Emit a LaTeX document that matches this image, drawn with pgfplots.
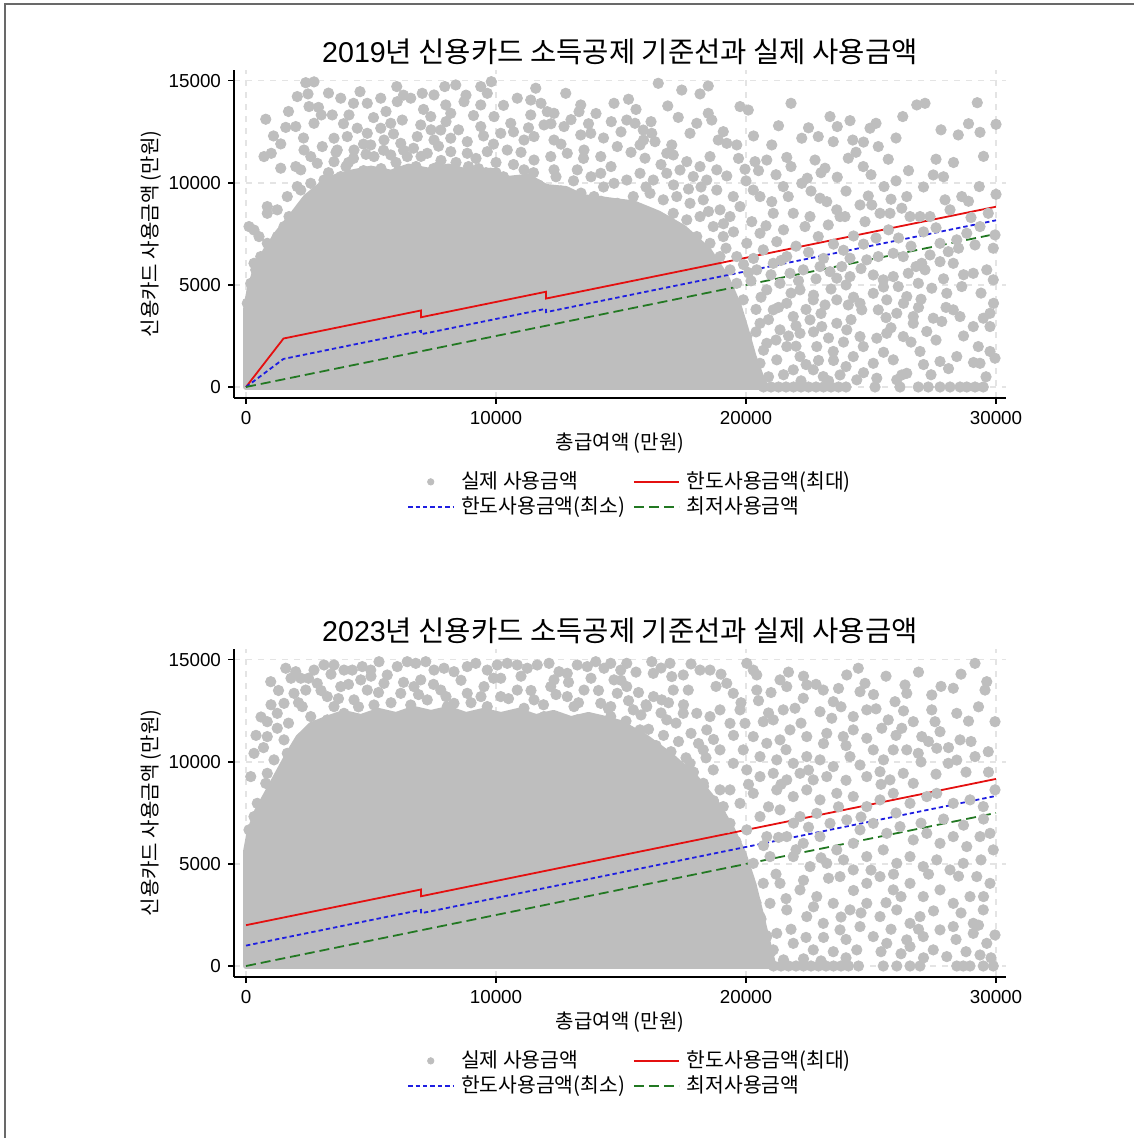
\documentclass[border=0pt]{standalone}
\usepackage{fontspec}
\setmainfont{Liberation Sans}
\newfontfamily\kr{Noto Sans CJK KR}
\usepackage{pgfplots}
\usepackage{pgfplotstable}
\pgfplotsset{compat=1.18}

\definecolor{dotgray}{RGB}{190,190,190}
\definecolor{maxred}{RGB}{228,16,16}
\definecolor{minblue}{RGB}{30,30,225}
\definecolor{lowgreen}{RGB}{34,120,34}
\definecolor{gridgray}{RGB}{228,228,228}
\definecolor{framegray}{RGB}{105,105,105}

% ---------- 2019: dense core of the cloud (outline) ----------
\pgfplotstableread{
x y
0 0
0 3800
150 4800
400 5800
800 6700
1300 7600
1900 8500
2400 9300
3000 9900
3600 10300
4200 10500
5000 10700
5800 10500
6500 10800
7300 10600
8100 10800
9000 10500
9800 10600
10500 10200
11300 10300
12000 9800
12800 9700
13500 9300
14200 9200
14800 9100
15500 9000
16500 8500
17500 7800
18500 6700
19200 5400
19700 4000
20000 2800
20300 1500
20600 500
20800 0
}\coreA

% ---------- 2019: individual observations outside the core ----------
\pgfplotstableread{
x y
2390 14910
2720 14950
2050 14230
2480 14360
2520 13740
790 13120
1590 12720
1990 12760
1390 11910
720 11290
1010 11450
1390 10720
1990 10800
2320 11610
2720 12920
3010 13330
3450 13330
3790 14150
4120 13330
4560 14470
4850 13900
5390 14150
6030 14720
6050 13980
6590 14150
7050 14390
7520 14310
7950 14720
8390 14800
8720 13980
9390 14720
9810 14960
9650 14390
9390 13820
7990 13820
8190 13410
7390 13250
7790 12590
6990 12840
6250 13080
5790 12920
5390 12680
4850 12430
4450 12680
4050 12270
3520 12190
3050 11780
3650 11610
4320 11610
4990 11860
5520 12100
6190 11940
6850 12270
7520 12100
8190 12190
8850 12020
9390 12760
9920 13250
10190 12430
10590 12920
10850 14150
11390 14060
11590 14640
11390 13330
12050 13490
12320 13410
12790 14390
13390 13820
13320 13490
14720 13900
14610 13000
12720 12760
11920 12840
11520 12270
12320 12100
13390 12350
13790 12430
11120 12100
10450 11610
9650 11530
8850 11450
8190 11530
7250 11450
6450 11290
5790 11370
5120 11290
2590 11290
2190 10640
2850 10960
3520 11040
12850 11450
13520 11610
14190 11290
14850 11780
12190 11290
11520 11120
11120 10640
12320 10640
13250 10640
14190 10470
14720 9980
13920 9330
14850 9000
4000 10800
4700 10600
5400 10700
6100 10600
6800 10800
7500 10700
8200 10600
8900 10800
9600 10500
10300 10300
11000 10100
11700 9900
12600 9600
13400 9500
14200 9100
3300 10500
6500 10400
8500 10300
10000 11000
9200 11200
7800 11100
6000 11000
4300 11200
1100 12300
1700 13500
2300 12200
2900 13700
3300 14400
3900 12900
4300 13900
4700 11900
5100 13200
5600 13500
5900 12400
6300 14300
6700 11700
7100 13600
7400 12600
7700 11800
8000 13000
8500 12600
8800 14300
9100 13300
9500 12300
9900 11900
10300 13800
10700 12500
11000 11500
11300 12700
11800 13900
12200 12900
12600 11900
13000 13100
13500 11200
13700 12900
14000 13400
14300 12200
14600 10800
15000 12500
15300 14100
15600 13600
15900 12100
16200 13000
3600 11500
4100 11000
4800 11400
5500 11600
6300 11600
7000 11300
7700 10800
8400 11000
9300 10700
10000 10500
10700 10900
11500 10500
12400 10300
13100 10100
13800 10300
14300 9800
320 7690
120 7860
520 7370
320 6060
390 5740
850 8510
1650 9330
2050 9820
850 8840
1250 7370
1250 8680
1720 8350
2190 9650
2590 9980
3120 10140
3790 10310
4590 10470
1520 7860
850 7040
590 6390
190 5080
50 4100
16490 14880
17430 14550
18160 14360
18490 14750
16870 13770
17290 13210
15230 13080
15560 12920
15890 12590
16230 12430
16360 12020
15760 11860
17030 11860
17760 12430
18030 12920
18490 13410
18630 13080
19090 12510
18890 12100
19230 11940
19630 11860
19760 13740
20090 13570
21800 13900
21030 11860
21630 11250
20360 11040
20830 11120
19960 10670
18560 11290
18160 10800
18830 10640
19230 10340
17630 11040
17090 11370
16830 11450
15960 11210
22230 12190
22890 12270
23360 13250
23650 12760
23490 12020
24160 13050
24270 12100
24960 12680
25200 12920
25290 11780
26270 13250
26830 13820
27160 13900
29250 13930
30000 12870
29360 12480
28490 12350
27600 11160
27490 10390
25690 11160
24690 10800
24090 11210
23160 10720
22760 11120
22450 10230
23650 10280
26000 10100
25520 9820
26430 9330
29330 9820
30000 9440
28630 9330
27960 9170
24890 9360
25030 8920
24560 8920
23630 8680
23960 8350
22960 9250
23230 9080
22230 9980
21490 9820
21690 9330
21030 9080
20560 9330
21090 8510
21890 8510
22560 8350
22360 7860
22890 7370
23290 7940
23760 8350
24760 8100
25360 8510
25760 8510
26230 8760
26560 8350
26960 8350
27360 8350
28160 8680
29690 8510
29360 7860
29960 7450
28830 7530
28430 7210
27760 7040
28090 6630
29160 6960
29890 6800
27360 6470
27030 6060
26290 6390
25890 6550
25290 6390
24830 6230
24160 6310
23830 5900
22960 5900
23360 5650
23630 5330
24160 5410
25090 5490
25490 5250
25890 5410
26490 5570
27160 5740
27760 6140
28290 6060
29090 5570
29630 5740
29890 5250
28630 4920
28030 4590
27430 4840
26890 5080
26430 4430
26090 4920
25630 4270
25090 4590
24560 4100
24090 4020
23630 4270
23160 4020
22690 4270
24630 3780
25290 3780
26030 3610
26690 3450
27490 3370
28290 3780
28560 3450
29090 2960
29490 3370
29760 3610
29760 2960
27830 3210
27230 2720
26690 3120
26290 2470
25630 2630
25230 2390
24560 2470
24030 2800
23630 3120
23030 2960
22560 3290
22160 2630
22830 1980
23490 1740
24290 1490
24690 1980
25090 1160
25890 1330
26230 590
26430 670
26960 1740
27760 1250
28430 1490
29290 1980
29760 1740
29960 1410
29360 1160
24430 350
25230 430
26030 350
19360 8350
19760 8840
20230 8100
20560 7530
20030 7040
20690 6720
21230 7120
21630 6390
21090 6060
20430 5740
21760 5570
22290 5740
21360 5080
20830 4760
22160 4760
21630 4100
21090 3780
21890 3450
20560 3120
21360 2800
20830 2140
21630 1980
22160 1490
21230 1330
20560 1160
20160 670
21890 840
22690 840
23090 510
23760 590
19630 6390
20290 9650
19490 9330
18960 8680
15230 10140
15760 10470
16290 10140
16830 10470
17360 10630
17890 10310
18430 10140
15490 9330
16160 9490
16690 9170
17230 9330
17760 9000
18290 9170
18830 9650
15760 8510
16430 8350
17090 8510
17630 8190
18160 8350
18690 7860
17360 7530
18030 7370
18560 7040
19090 7370
18960 6390
19360 5740
19630 5080
19890 4270
19490 3450
20030 2470
19760 1650
15400 11500
16000 9800
16600 10900
17100 9900
17700 9700
18200 9800
18500 8600
19100 8000
19500 7600
19900 6000
20100 5600
19200 6800
20400 3800
20900 3300
21300 3900
21700 2500
22000 3000
22400 3800
22700 2700
23000 3600
23300 2400
23500 1300
23900 2200
24200 3300
24000 1000
22400 1100
22000 2000
21500 600
22900 1300
21200 2300
20700 1800
20400 2700
20900 500
22200 300
23300 300
24700 700
25500 1700
25800 2900
26600 2200
27100 1100
27600 2300
28100 900
28700 2500
29100 1200
29600 500
27400 600
28000 3900
26900 3900
25600 3400
24300 4400
20200 5200
20600 4400
21000 5500
21400 6200
21800 4600
22100 5200
22500 6600
22800 5300
23100 6300
23500 7000
23900 6700
24300 7400
24600 5800
20300 6300
20800 7900
21500 7700
22000 6900
22700 4500
23400 4800
24000 5000
24700 7000
25200 7300
25700 7700
26100 7300
26600 6900
27100 7600
27600 7800
28500 6800
29000 8300
26800 5900
27900 5300
28700 5500
29400 4600
29900 4100
25500 4900
26300 4100
27000 4300
20000 10100
20500 10600
21200 10400
21800 10800
22600 9600
23000 10500
24000 9600
24400 11500
25000 10400
25800 9200
26500 10600
27100 9800
27900 10300
28300 11000
28900 9100
29500 11300
19700 11200
20300 12300
21300 12800
22500 12700
24700 12000
26000 12200
27800 12600
28900 12900
20700 0
21000 0
21300 0
21600 0
21900 0
22200 0
22500 0
22800 0
23100 0
23400 0
23700 0
24000 0
25160 0
26160 0
26890 0
27290 0
27760 0
28160 0
28560 0
28830 0
29160 0
29490 0
}\dotsA

% ---------- 2023: dense core of the cloud (outline) ----------
\pgfplotstableread{
x y
0 0
0 5600
150 6600
450 7600
900 8600
1300 9500
1700 10400
2100 11200
2600 11800
3200 12100
3900 12400
4600 12200
5300 12500
6000 12300
6700 12600
7400 12400
8100 12600
8800 12300
9500 12500
10200 12300
10900 12500
11600 12200
12300 12400
13000 12100
13700 12300
14400 12100
15000 11900
16000 11200
17000 10300
18000 9200
18800 8000
19400 6800
19900 5500
20300 4000
20600 2500
20900 1000
21100 0
}\coreB

% ---------- 2023: individual observations outside the core ----------
\pgfplotstableread{
x y
1590 14590
1990 14420
990 13930
2720 14500
3120 14750
3520 14750
3920 14500
4250 14500
4650 14670
4990 14500
5320 14910
5650 14260
6050 14670
6450 14910
6790 14830
7190 14910
7520 14500
7920 14590
8320 14420
8850 14670
9190 14830
9650 14500
10050 14750
10450 14830
10850 14750
11250 14590
11650 14750
12120 14830
12520 14420
12850 14340
13250 14750
13650 14670
13990 14910
14320 14590
14590 14830
14990 14500
1520 12870
1920 13360
2390 13520
2850 13850
3250 13200
3790 13690
4320 13040
4850 13520
5520 13850
6190 13360
6720 13690
7250 13040
7790 13520
8320 12870
8850 13360
9520 13690
10190 13200
10850 13520
11520 13040
12190 13690
12850 13200
13520 13520
14190 12870
14850 13360
850 11970
1250 12380
2590 12220
3250 12060
3920 12380
4590 11890
5250 12220
5920 11730
6590 12220
7250 11890
7920 12220
8590 11730
9250 12060
9920 12220
10590 11730
11250 12060
11920 12220
12590 11730
13250 12060
13920 11890
14590 12220
2250 12710
3520 12710
5120 12790
6590 12790
8050 12710
9650 12710
11120 12630
13120 12710
14590 12710
2190 14100
4590 14020
6990 14020
10190 14100
12320 14020
14720 14020
1300 13500
1800 14100
2100 12900
2500 14100
3000 13500
3400 14300
3700 13100
4100 13800
4500 12700
5000 14200
5300 13400
5800 12900
6300 13900
6900 13300
7500 13800
8000 13200
8600 14000
9000 12900
9400 13200
9900 14100
10500 13100
11000 14200
11400 13500
11900 12800
12400 13300
12900 13900
13300 12900
13800 14100
14100 13500
14500 12600
15000 14000
15600 14400
16600 14600
17800 14800
18800 13700
19000 14300
1000 12800
600 12200
400 11300
700 10700
1700 11900
320 10420
190 9280
850 9440
790 8950
450 7970
320 7320
120 6670
1120 10100
850 11240
1520 11080
1250 11650
1650 10420
15200 12000
15500 11200
15800 12300
16100 11600
16400 10800
16700 11300
17000 10500
17300 11000
17600 10200
15300 13000
15700 13400
16000 12800
16300 13200
16600 12400
16900 12900
17200 11900
17500 12800
17800 11400
18100 10900
18400 10200
18700 11100
17900 9500
18300 8800
18700 8100
19000 7400
19300 6800
19600 6100
19800 5400
20000 4700
20200 3900
20400 3100
20600 2300
20800 1500
21000 700
15230 14830
16230 14910
16960 14830
16290 14340
17030 14180
17490 14260
18160 14500
18560 14500
17090 13520
17690 13520
16630 13040
16030 12710
15490 12550
15230 13690
19230 13850
20030 14830
20290 14500
20430 14260
20430 13520
21360 14020
21630 13690
22430 13770
22290 13120
23090 13520
23490 12950
24030 14260
24490 14590
24760 13850
24560 13440
26360 13770
26430 13360
25960 12950
27430 13280
28290 13610
29160 14830
29630 13930
29560 13520
29960 11970
19490 13360
19760 12550
18960 12550
18560 12220
18030 12380
17490 12380
16830 12060
15760 11570
18430 11570
19360 11890
19960 11890
20690 11970
21090 12060
21490 12550
21960 12630
22960 12460
23430 12140
24290 12220
24830 12550
25430 11650
25690 12060
26230 11650
26690 11970
27430 12550
27560 11970
27760 11480
28430 12380
28560 11080
27030 11240
26430 10590
26890 10420
27630 10670
28090 9930
28430 10090
29160 10260
29690 10500
21760 11570
22430 11240
23230 11400
23890 11240
24290 11570
24830 11160
25090 10590
25890 10590
21360 11080
20830 10910
20290 11240
19890 10590
20560 10260
21230 10100
21890 9930
22430 10260
22960 10100
23490 9770
24160 10260
24560 9850
24830 9280
25360 9520
25760 9120
26290 9440
26690 8950
23230 9280
22690 9120
22160 9440
21630 9120
21090 9440
20560 9280
20030 9610
19490 9930
18960 10590
21230 8630
21890 8300
22430 8630
22960 8140
23630 8460
24290 8300
24830 7810
25360 8140
25890 8460
26560 7970
27230 8300
27630 8460
28290 7970
28960 8140
29490 7810
29960 8630
21360 7650
22160 7320
22830 7480
23360 6990
24030 7160
24560 6670
25090 6990
25630 6500
26160 6830
26690 6180
27230 6500
27760 6010
28290 6340
28830 5850
29360 6340
29760 6500
29890 5690
21630 6340
22290 6010
22960 6340
23630 5690
24290 6010
24830 5360
25490 5690
26030 5030
26560 5360
27090 4870
27630 5200
28160 4710
28690 5030
29230 4380
29760 4050
21890 5360
22560 4870
23230 5030
23760 4380
24290 4710
24830 4050
25360 4380
25890 3730
26560 4050
27090 3400
27760 3730
28290 3070
28960 3400
29490 2750
29090 2090
21360 4050
22160 3730
22830 3400
23490 3070
24160 2750
24830 3070
25360 2420
26030 2750
26560 2090
26960 2420
27760 1770
28290 1930
29090 1600
29960 1520
21630 2750
22430 2420
23090 2090
23760 1770
24560 1930
25090 1440
25630 1110
26430 1280
27090 1440
26560 950
27490 790
28030 460
29360 540
29630 1110
21230 1600
21890 1110
22690 790
23490 700
24430 790
19360 8630
19760 7970
20290 8460
20560 7320
20830 6340
20030 6670
20960 5360
20290 5030
20690 4050
20960 3070
20560 2420
20830 1440
21090 790
18290 10590
17760 9930
18690 9610
18290 8950
18960 8630
19090 7810
19360 6990
20500 13000
21000 13400
21700 14400
22300 14200
22800 13800
23700 13600
25100 13300
25600 14200
26900 14400
27800 13700
28600 14300
29300 12700
28900 12000
26300 12500
25200 12600
23800 12700
22200 11900
20900 12400
19800 12900
19500 11300
21600 10600
23100 10900
24000 10800
25500 10100
26000 11300
27300 11000
28100 10700
29000 11000
29700 9500
28800 9500
27600 9400
27000 10000
25400 8900
24000 9100
22500 9600
21400 8900
20100 8900
20900 7800
21900 7000
22500 6800
23700 7800
24600 7300
26000 7500
27000 7000
27900 7200
28700 6900
29500 7200
20700 5900
21300 6300
22000 5700
23000 5300
23900 5200
25000 4700
25900 4500
27300 4500
28500 4400
29400 5200
21200 4500
22300 4200
23300 4300
24300 3700
25600 3100
26200 3400
27500 2700
28600 2600
29500 3400
21600 3300
22700 2900
23800 2400
24600 2600
25800 1800
26900 1800
28400 1300
29300 2000
21800 1800
22400 1400
23100 1400
24000 1300
25400 700
26200 600
27100 400
28800 700
29800 400
21500 300
22300 350
23000 250
24000 400
21100 0
21400 0
21700 0
22000 0
22300 0
22600 0
22900 0
23200 0
23500 0
23800 0
24100 0
24500 0
25490 0
26030 0
26560 0
26960 0
28430 0
28690 0
28960 0
29490 0
29890 0
}\dotsB

\pgfplotsset{
  cardpanel/.style={
    scale only axis, width=386pt, height=164pt,
    xmin=-480, xmax=30400, ymin=-539, ymax=15533,
    axis x line*=bottom, axis y line*=left,
    axis line style={black, line width=0.6pt, -},
    xtick={0,10000,20000,30000}, ytick={0,5000,10000,15000},
    scaled ticks=false,
    /pgf/number format/set thousands separator={},
    /pgf/number format/assume math mode=true,
    tick align=outside, major tick length=3pt,
    major tick style={black, line width=0.6pt},
    grid=major, major grid style={gridgray, dashed, line width=0.6pt},
    ticklabel style={font=\fontsize{9.4}{11}\selectfont},
    label style={font=\fontsize{10}{12}\selectfont},
    xlabel={\kr 총급여액 (만원)},
    ylabel={\kr 신용카드 사용금액 (만원)},
    xlabel style={yshift=2.5pt},
    ylabel style={yshift=-3pt},
    title style={font=\fontsize{14.3}{17}\selectfont, at={(0.5,1)}, anchor=south, yshift=-7pt},
    legend columns=2,
    legend cell align=left,
    legend style={draw=none, fill=none, inner sep=0pt,
      font=\fontsize{10.2}{12}\selectfont,
      at={(0.224,-0.212)}, anchor=north west,
      /tikz/every odd column/.append style={column sep=1.5pt},
      /tikz/every even column/.append style={column sep=2pt},
      row sep=-1.5pt},
  },
  cloud/.style={only marks, mark=*, mark size=2.6pt,
    mark options={fill=dotgray, draw=none}, color=dotgray,
    legend image code/.code={\fill[dotgray] (11.25pt,0pt) circle (1.6pt);}},
  core/.style={fill=dotgray, draw=dotgray, line width=3pt, line join=round, forget plot},
  keyline/.style={legend image code/.code={\draw[##1] (0pt,0pt) -- (22.5pt,0pt);}},
  maxline/.style={maxred, line width=0.9pt, keyline},
  minline/.style={minblue, line width=0.9pt, dash pattern=on 2.2pt off 1.5pt, keyline},
  lowline/.style={lowgreen, line width=0.9pt, dash pattern=on 5pt off 2.5pt, keyline},
}

\begin{document}
\begin{tikzpicture}
\useasboundingbox (0,0) rectangle (567pt,569pt);
\draw[framegray, line width=1pt] (2.5pt,0pt) -- (2.5pt,567pt) -- (567pt,567pt);

% ---------------- 2019 ----------------
\begin{axis}[cardpanel, at={(117pt,370pt)}, anchor=south west,
  title={2019{\kr 년 신용카드 소득공제 기준선과 실제 사용금액}}]
\addplot[core] table {\coreA} -- cycle;
\addplot[cloud] table {\dotsA};
\addlegendentry{\kr 실제 사용금액}
\addplot[maxline] coordinates {(0,0) (1500,2375) (7000,3750) (7000,3417) (12000,4667) (12000,4333) (30000,8833)};
\addlegendentry{\kr 한도사용금액(최대)}
\addplot[minline] coordinates {(0,0) (1500,1375) (7000,2750) (7000,2583) (12000,3833) (12000,3667) (30000,8167)};
\addlegendentry{\kr 한도사용금액(최소)}
\addplot[lowline] coordinates {(0,0) (30000,7500)};
\addlegendentry{\kr 최저사용금액}
\end{axis}

% ---------------- 2023 ----------------
\begin{axis}[cardpanel, at={(117pt,80.5pt)}, anchor=south west,
  title={2023{\kr 년 신용카드 소득공제 기준선과 실제 사용금액}}]
\addplot[core] table {\coreB} -- cycle;
\addplot[cloud] table {\dotsB};
\addlegendentry{\kr 실제 사용금액}
\addplot[maxline] coordinates {(0,2000) (7000,3750) (7000,3417) (30000,9167)};
\addlegendentry{\kr 한도사용금액(최대)}
\addplot[minline] coordinates {(0,1000) (7000,2750) (7000,2583) (30000,8333)};
\addlegendentry{\kr 한도사용금액(최소)}
\addplot[lowline] coordinates {(0,0) (30000,7500)};
\addlegendentry{\kr 최저사용금액}
\end{axis}
\end{tikzpicture}
\end{document}
